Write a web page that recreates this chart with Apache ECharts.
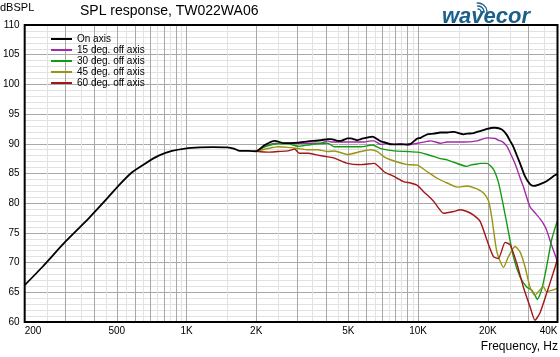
<!DOCTYPE html>
<html><head><meta charset="utf-8">
<script src="https://cdn.jsdelivr.net/npm/echarts@6/dist/echarts.min.js"></script>
<style>html,body{margin:0;padding:0;background:#fff}#c{width:560px;height:357px}</style>
</head><body><div id="c"></div>
<script>
// ---- data ----
const freqOnAxis = [200,239,301,379,447,510,582,664,758,865,986,1144,1300,1500,1600,1700,1850,2000,2176,2402,2651,3027,3342,3811,4073,4208,4496,4645,4964,5128,5479,5661,6356,6457,6900,7129,7618,8410,9283,9921,10250,10952,11689,12488,13345,14248,15729,16267,17366,17960,19170,19826,21160,21520,23010,24160,24960,25790,27560,28960,30420,31440,33020,35890,38940,40000];
const splOnAxis  = [66.2,69.3,73.6,77.5,80.5,83.0,85.2,86.7,88.0,88.8,89.2,89.4,89.45,89.4,89.2,88.8,88.8,88.75,89.8,90.5,90.1,90.2,90.4,90.6,90.8,90.8,90.5,90.5,90.9,90.9,90.6,90.8,91.2,91.1,90.4,90.3,89.9,89.9,90.0,90.9,91.0,91.6,91.7,91.9,91.9,92.0,91.6,91.7,91.8,92.0,92.3,92.5,92.7,92.7,92.4,91.5,90.5,89.5,86.7,84.5,83.2,82.9,83.1,83.7,84.7,84.9];

const freq15 = [2000,2250,2484,2742,3027,3342,3811,4073,4208,4964,5849,6250,6457,6900,7374,7871,8410,8985,9921,10952,11314,12488,13345,14248,15729,17960,19826,21520,22230,23010,24160,24960,25790,26670,27560,28480,30420,31970,33580,34700,35890,37070,38300,40000];
const spl15  = [88.75,89.8,90.1,90.1,90.1,90.1,90.1,90.5,90.3,90.3,90.3,90.5,90.5,89.9,90.1,89.9,90.0,89.8,90.1,90.4,90.5,90.1,90.3,90.3,90.3,90.5,91.0,90.9,90.6,90.4,89.6,88.5,87.3,85.9,84.3,82.8,79.4,78.4,77.4,76.6,75.5,73.8,72.2,70.2];

const freq30 = [2000,2176,2484,2742,3027,3342,3690,4073,4348,4964,5661,6356,6900,7871,8985,9921,10952,12488,13345,14248,16267,16808,17960,18556,19826,21160,22230,23370,24160,25790,27560,29440,30940,31970,32700,34160,35890,37720,39610,40000];
const spl30  = [88.75,89.5,90.0,90.0,89.6,89.8,90.0,90.1,89.5,89.5,89.5,89.8,89.2,88.8,88.7,88.6,88.2,87.5,87.3,86.9,86.2,86.4,86.6,86.7,86.7,85.7,83.5,79.5,76.6,71.0,67.6,65.9,65.4,64.5,63.8,65.4,69.3,73.8,76.6,76.9];

const freq45 = [2000,2250,2484,2742,3027,3342,3690,4073,4348,4964,5661,6250,6678,7129,7871,8985,9921,10952,12088,13345,14736,16267,17960,19170,20140,20830,21890,23370,24550,26220,27560,28960,30420,31970,33580,34700,35890,38300,40000];
const spl45  = [88.75,89.2,89.5,89.4,89.2,89.0,89.0,88.7,88.8,88.2,88.7,89.0,88.7,87.8,87.1,86.5,86.4,85.3,84.2,83.4,82.7,82.9,82.4,81.7,80.4,77.5,71.8,69.2,71.0,72.7,71.8,69.3,65.9,64.5,65.4,66.0,65.1,65.4,65.7];

const freq60 = [2000,2250,2484,2742,2928,3078,3342,3690,4073,4348,4964,5661,6457,7129,7871,8689,9283,9921,10590,11689,12904,14248,15222,16267,17366,18556,19826,21160,22230,23770,24960,26670,28480,30420,31970,33580,35890,38300,40000];
const spl60  = [88.75,88.6,88.7,88.8,89.1,88.4,88.4,88.1,87.8,87.6,86.7,86.5,86.7,85.3,84.5,83.6,83.4,83.0,81.9,80.3,78.3,78.6,78.9,78.6,78.0,76.9,73.8,71.0,70.7,73.4,73.0,69.9,65.9,62.6,60.3,61.5,64.8,68.2,70.6];

const seriesNames = ['On axis','15 deg. off axis','30 deg. off axis','45 deg. off axis','60 deg. off axis'];
const tickFreqs  = [200,500,1000,2000,5000,10000,20000,40000];
const tickLabels = ['200','500','1K','2K','5K','10K','20K','40K'];
const majorGridFreqs = [300,400,500,600,700,800,900,1000,2000,3000,4000,5000,6000,7000,8000,9000,10000,20000,30000];
const minorGridFreqs = [250,350,450,550,650,750,850,950,1500,2500,3500,4500,5500,6500,7500,8500,9500,15000,25000,35000];

// ---- styling ----
const FONT = '"Liberation Sans", Arial, sans-serif';
const seriesColors = ['#000000','#a42aa8','#139c13','#9a9412','#a31616'];
const seriesWidths = [1.8,1.4,1.4,1.4,1.4];

const zip = (f, v) => f.map((x, i) => [x, v[i]]);
const seriesData = [zip(freqOnAxis, splOnAxis), zip(freq15, spl15), zip(freq30, spl30), zip(freq45, spl45), zip(freq60, spl60)];

const gridMarks = [];
minorGridFreqs.forEach(f => gridMarks.push({xAxis: f, lineStyle: {color: '#e2e2e2', width: 1, type: 'solid'}}));
majorGridFreqs.forEach(f => gridMarks.push({xAxis: f, lineStyle: {color: '#a8a8a8', width: 1, type: 'solid'}}));
tickFreqs.forEach((f, i) => gridMarks.push({
  xAxis: f,
  lineStyle: {color: 'rgba(0,0,0,0)', width: 1},
  label: {show: true, formatter: tickLabels[i], position: 'start', distance: 4,
          align: i === 0 ? 'left' : (i === tickFreqs.length - 1 ? 'right' : 'center')}
}));

const series = seriesNames.map((name, i) => ({
  name, type: 'line', data: seriesData[i], showSymbol: false, symbol: 'none',
  smooth: 0.2, z: i === 0 ? 3 : 2, clip: true,
  lineStyle: {color: seriesColors[i], width: seriesWidths[i]},
  itemStyle: {color: seriesColors[i]},
  emphasis: {disabled: true},
  animation: false
}));
series[0].markLine = {
  silent: true, symbol: ['none', 'none'], z: 1, animation: false,
  label: {show: false, fontSize: 10, color: '#000', fontFamily: FONT},
  emphasis: {disabled: true},
  data: gridMarks
};

const chart = echarts.init(document.getElementById('c'), null, {renderer: 'canvas'});
chart.setOption({
  animation: false,
  textStyle: {fontFamily: FONT},
  title: [
    {text: 'SPL response, TW022WA06', left: 80, top: 4, padding: 0,
     textStyle: {fontSize: 14, fontWeight: 'normal', color: '#000', fontFamily: FONT}},
    {text: 'dBSPL', left: 0, top: 2, padding: 0,
     textStyle: {fontSize: 11, fontWeight: 'normal', color: '#000', fontFamily: FONT}},
    {text: 'Frequency, Hz', right: 2, top: 341, padding: 0,
     textStyle: {fontSize: 12, fontWeight: 'normal', color: '#000', fontFamily: FONT}}
  ],
  graphic: [
    {type: 'text', left: 442, top: 6, style: {text: 'wavecor', fill: '#1b5f8b',
      font: 'italic bold 22px "Liberation Sans", Arial, sans-serif'}},
    {type: 'arc', shape: {cx: 478, cy: 12, r: 3, startAngle: -Math.PI * 0.55, endAngle: Math.PI * 0.05}, style: {stroke: '#1b5f8b', lineWidth: 1.3, fill: null}},
    {type: 'arc', shape: {cx: 478, cy: 12, r: 6, startAngle: -Math.PI * 0.55, endAngle: Math.PI * 0.05}, style: {stroke: '#1b5f8b', lineWidth: 1.3, fill: null}},
    {type: 'arc', shape: {cx: 478, cy: 12, r: 9, startAngle: -Math.PI * 0.55, endAngle: Math.PI * 0.05}, style: {stroke: '#1b5f8b', lineWidth: 1.3, fill: null}}
  ],
  legend: {
    left: 51, top: 34, orient: 'vertical', padding: 0, itemGap: 1,
    itemWidth: 21, itemHeight: 2, selectedMode: false,
    textStyle: {fontSize: 10, color: '#000', lineHeight: 10, fontFamily: FONT},
    data: seriesNames.map(n => ({name: n, icon: 'rect'}))
  },
  grid: {left: 22, right: 2.5, top: 25, bottom: 35, show: true, z: 4,
         borderColor: '#000', borderWidth: 2, backgroundColor: 'transparent'},
  xAxis: {
    type: 'log', logBase: 10, min: 200, max: 40000,
    axisLine: {show: false}, axisTick: {show: false}, axisLabel: {show: false},
    splitLine: {show: false}, minorSplitLine: {show: false}
  },
  yAxis: {
    type: 'value', min: 60, max: 110, interval: 5,
    axisLine: {show: false}, axisTick: {show: false},
    axisLabel: {fontSize: 10, color: '#000', margin: 5, fontFamily: FONT},
    splitLine: {show: true, lineStyle: {color: '#a8a8a8', width: 1}},
    minorTick: {show: false, splitNumber: 5},
    minorSplitLine: {show: true, lineStyle: {color: '#e2e2e2', width: 1}}
  },
  series
});
</script></body></html>
